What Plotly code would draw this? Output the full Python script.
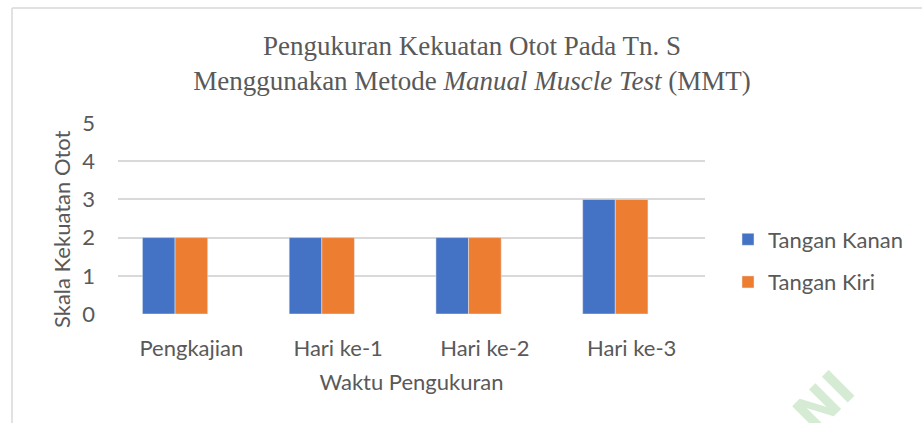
import plotly.graph_objects as go

categories = ["Pengkajian", "Hari ke-1", "Hari ke-2", "Hari ke-3"]
tangan_kanan = [2, 2, 2, 3]
tangan_kiri = [2, 2, 2, 3]
empty_series = [None, None, None, None]  # third (empty) series slot present in the original chart
series_names = ["Tangan Kanan", "Tangan Kiri"]
y_ticks = [0, 1, 2, 3, 4, 5]

W, H = 922, 423
L, R, T, B = 118, 705, 123, 314
pw, ph = R - L, B - T

def px(x):
    return (x - L) / pw

def py(y):
    return (B - y) / ph

gray = "#595959"
font_sans = "Lato, Open Sans, sans-serif"
fs = 22

fig = go.Figure()
fig.add_trace(go.Bar(x=categories, y=tangan_kanan, name=series_names[0],
                     marker_color="#4472C4", legendgroup="a"))
fig.add_trace(go.Bar(x=categories, y=tangan_kiri, name=series_names[1],
                     marker_color="#ED7D31", legendgroup="b"))
fig.add_trace(go.Bar(x=categories, y=empty_series, name="", showlegend=False,
                     marker_color="#A5A5A5", legendgroup="c", hoverinfo="skip"))

fig.update_layout(
    width=W, height=H, autosize=False,
    margin=dict(l=L, r=W - R, t=T, b=H - B, pad=0),
    paper_bgcolor="white", plot_bgcolor="white",
    barmode="group", bargap=0.333, bargroupgap=0,
    title=dict(
        text="Pengukuran Kekuatan Otot Pada Tn. S<br>Menggunakan Metode <i>Manual Muscle Test</i> (MMT)",
        x=472 / W, xanchor="center", y=1 - 55 / H, yanchor="top",
        font=dict(family="Liberation Serif, Times New Roman, serif", size=27, color=gray),
    ),
    font=dict(family=font_sans, color=gray, size=fs),
    showlegend=True,
    legend=dict(x=px(728), xanchor="left", y=py(261), yanchor="middle",
                font=dict(size=fs, color=gray), traceorder="grouped",
                tracegroupgap=11, itemwidth=30, bgcolor="rgba(0,0,0,0)"),
)
fig.update_xaxes(showgrid=False, showline=False, ticks="", ticklabelstandoff=19,
                 tickfont=dict(size=fs, color=gray),
                 title=dict(text="Waktu Pengukuran", font=dict(size=fs, color=gray), standoff=14))
fig.update_yaxes(range=[0, 5], tickvals=y_ticks, showgrid=True, gridcolor="#D9D9D9",
                 gridwidth=1.5, zeroline=False, showline=False, ticks="", ticklabelstandoff=22,
                 tickfont=dict(size=fs, color=gray))

# y-axis title placed to match the original's vertical offset
fig.add_annotation(text="Skala Kekuatan Otot", xref="paper", yref="paper",
                   x=px(61), y=py(229), xanchor="center", yanchor="middle",
                   showarrow=False, textangle=-90, font=dict(size=fs, color=gray))

# chart border (top and left edges visible)
fig.add_shape(type="line", xref="paper", yref="paper", x0=px(12), x1=px(W + 5), y0=py(8), y1=py(8),
              line=dict(color="#D9D9D9", width=1.5))
fig.add_shape(type="line", xref="paper", yref="paper", x0=px(12), x1=px(12), y0=py(8), y1=py(H + 5),
              line=dict(color="#D9D9D9", width=1.5))

# faint watermark fragment
fig.add_annotation(text="<b>NI</b>", xref="paper", yref="paper", x=px(824), y=py(402),
                   xanchor="center", yanchor="middle",
                   showarrow=False, textangle=-45,
                   font=dict(family="DejaVu Sans, sans-serif", size=50, color="#D5EBD4"))

fig.write_html("out.html", config={"displayModeBar": False},
               post_script="document.body.style.margin='0';")
